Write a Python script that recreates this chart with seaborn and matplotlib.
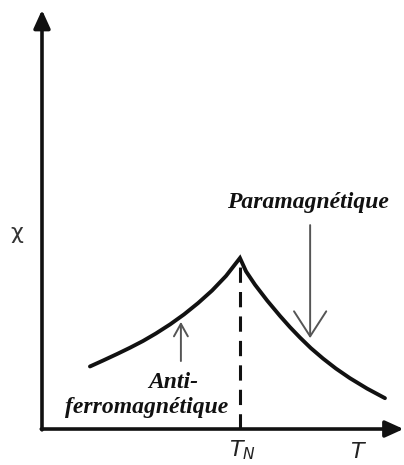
import matplotlib
matplotlib.use("Agg")
import matplotlib.pyplot as plt
import seaborn as sns
import pandas as pd

# Susceptibility of an antiferromagnet versus temperature (arbitrary units)
temperature = [1.34, 1.70, 2.10, 2.46, 2.82, 3.18, 3.58, 3.97, 4.36, 4.75,
               5.14, 5.53,
               5.70, 5.95, 6.29, 6.65, 6.93, 7.21, 7.51, 7.85, 8.21, 8.60,
               9.08, 9.58]
susceptibility = [1.50, 1.64, 1.80, 1.95, 2.11, 2.29, 2.51, 2.75, 3.02, 3.32,
                  3.67, 4.10,
                  3.78, 3.46, 3.08, 2.71, 2.44, 2.19, 1.94, 1.69, 1.45, 1.22,
                  0.97, 0.74]
t_neel = 5.53

label_para = "Paramagnétique"
label_anti = ["Anti-", "ferromagnétique"]
label_x = "T"
label_tn = "$T_N$"
label_y = "χ"

df = pd.DataFrame({"T": temperature, "chi": susceptibility})

sns.set_style("white")
plt.rcParams["font.family"] = ["DejaVu Sans"]

fig = plt.figure(figsize=(4.04, 4.65), dpi=100)
ax = fig.add_axes([0, 0, 1, 1])
ax.set_xlim(-1.173, 10.112)
ax.set_ylim(-0.863, 10.288)
ax.axis("off")

# axes drawn as arrows
axis_style = dict(arrowstyle="-|>,head_length=0.55,head_width=0.25",
                  lw=2.6, color="#111111", mutation_scale=20,
                  shrinkA=0, shrinkB=0)
ax.annotate("", xy=(10.10, 0), xytext=(-0.02, 0), arrowprops=axis_style)
ax.annotate("", xy=(0, 10.05), xytext=(0, -0.02), arrowprops=axis_style)

# susceptibility curve
sns.lineplot(data=df, x="T", y="chi", ax=ax, color="#111111", lw=2.8,
             sort=False, estimator=None)
ax.lines[-1].set_solid_joinstyle("miter")
ax.lines[-1].set_solid_capstyle("round")

# Néel temperature marker
ax.plot([t_neel, t_neel], [0, 3.95], color="#111111", lw=2.2,
        linestyle=(0, (5, 3)))

serif = ["Liberation Serif", "DejaVu Serif"]
ax.text(7.43, 5.42, label_para, ha="center", va="center", fontsize=17,
        style="italic", weight="bold", family=serif, color="#111111")
ax.annotate("", xy=(7.49, 2.18), xytext=(7.49, 4.89),
            arrowprops=dict(arrowstyle="->,head_length=0.9,head_width=0.58",
                            lw=1.4, color="#555555", mutation_scale=20,
                            shrinkA=0, shrinkB=0))

ax.text(3.66, 1.12, label_anti[0], ha="center", va="center", fontsize=17,
        style="italic", weight="bold", family=serif, color="#111111")
ax.text(2.93, 0.52, label_anti[1], ha="center", va="center", fontsize=17,
        style="italic", weight="bold", family=serif, color="#111111")
ax.annotate("", xy=(3.88, 2.57), xytext=(3.88, 1.63),
            arrowprops=dict(arrowstyle="->,head_length=0.45,head_width=0.25",
                            lw=1.4, color="#555555", mutation_scale=20,
                            shrinkA=0, shrinkB=0))

ax.text(5.59, -0.50, label_tn, ha="center", va="center", fontsize=16,
        color="#222222")
ax.text(8.80, -0.55, label_x, ha="center", va="center", fontsize=16,
        style="italic", color="#222222")
ax.text(-0.70, 4.70, label_y, ha="center", va="center", fontsize=16,
        color="#333333")

fig.savefig("out.png", dpi=100)
